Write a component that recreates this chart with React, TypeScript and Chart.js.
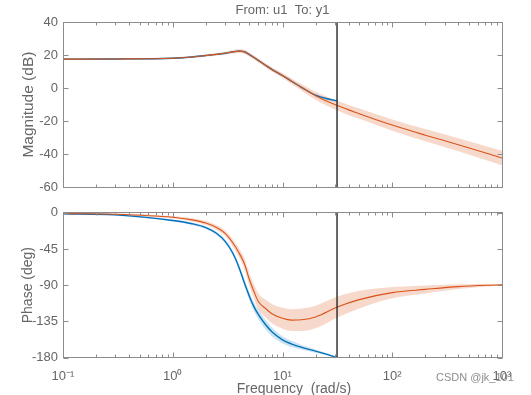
import React, { useEffect, useRef } from 'react';
import { Chart, registerables } from 'chart.js';

Chart.register(...registerables);

const FONT = '"Liberation Sans", Arial, Helvetica, sans-serif';
const TEXT = '#666666';
const AXIS = '#8c8c8c';
const ORANGE = '#D95319';
const BLUE = '#0072BD';
const ORANGE_BAND = 'rgba(217,83,25,0.22)';
const BLUE_BAND = 'rgba(0,114,189,0.2)';

const TITLE = 'From: u1  To: y1';
const X_LABEL = 'Frequency  (rad/s)';
const MAG_LABEL = 'Magnitude (dB)';
const PHASE_LABEL = 'Phase (deg)';
const WATERMARK = 'CSDN @jk_101';

const X_MIN = 0.1;
const X_MAX = 1000;
const NYQUIST = 31.4;
const xTickValues = [0.1, 1, 10, 100, 1000];
const xTickLabels = ['10\u207B\u00B9', '10\u2070', '10\u00B9', '10\u00B2', '10\u00B3'];
const magTicks = [-60, -40, -20, 0, 20, 40];
const phaseTicks = [-180, -135, -90, -45, 0];

// orange (model 2) — full range
const freqOrange = [0.1, 0.3, 1, 1.5, 2, 2.5, 3, 3.5, 4, 4.5, 5, 5.5, 6, 7, 8, 10, 12, 15, 20, 31.6, 50, 100, 200, 400, 1000];
const magOrange = [17.5, 17.6, 18.1, 18.8, 19.7, 20.4, 21.1, 21.9, 22.4, 22.0, 20.2, 18.5, 16.8, 13.8, 11.3, 7.6, 4.3, 0.3, -4.6, -10.6, -15.5, -22.4, -28.5, -34.3, -42.3];
const magOrangeSpread = [0.5, 0.5, 0.5, 0.6, 0.7, 0.8, 0.9, 1.0, 1.1, 1.2, 1.2, 1.2, 1.2, 1.2, 1.3, 1.5, 1.7, 2.0, 2.4, 2.9, 3.1, 3.4, 3.7, 4.0, 4.4];
const phaseOrange = [-1, -1.8, -5.6, -8.8, -12.8, -18.3, -25.5, -36.7, -49.4, -63.4, -83.3, -98, -110, -119, -125.5, -131.2, -133.5, -133.0, -129.5, -117.2, -108, -99.3, -95.3, -91.8, -89.5];
const phaseOrangeSpread = [0.5, 1, 1.5, 2, 2.5, 3, 3.5, 4.5, 5.5, 7, 8, 9, 10, 11, 12, 13, 13.5, 14, 14, 13, 11, 7, 5, 3, 1];

// blue (model 1) — up to the Nyquist frequency
const freqBlue = [0.1, 0.3, 1, 1.5, 2, 2.5, 3, 3.5, 4, 4.5, 5, 5.5, 6, 7, 8, 10, 12, 15, 20, 25, 31.4];
const magBlue = [17.5, 17.6, 18.1, 18.8, 19.7, 20.4, 21.1, 21.9, 22.4, 22.0, 20.2, 18.5, 16.8, 13.8, 11.3, 7.6, 4.3, 0.3, -4.3, -6.3, -7.7];
const magBlueSpread = [0.3, 0.3, 0.3, 0.3, 0.4, 0.4, 0.5, 0.5, 0.6, 0.6, 0.6, 0.6, 0.6, 0.6, 0.6, 0.6, 0.6, 0.6, 0.6, 0.6, 0.6];
const phaseBlue = [-1.2, -2.6, -9.6, -13.6, -18.4, -25.5, -35.5, -49.4, -67.3, -87.3, -104, -117, -126, -139, -148, -158, -163, -167.5, -172, -175.8, -180];
const phaseBlueSpread = [0.5, 0.8, 1.2, 1.5, 1.8, 2, 2.5, 3, 4, 4.5, 5, 5.5, 6, 6, 5.5, 4.5, 4, 3, 2, 1.5, 1];

const pts = (xs: number[], ys: number[]) => xs.map((x, i) => ({ x, y: ys[i] }));

function seriesSets(freq: number[], vals: number[], spread: number[], color: string, band: string, lw: number, order: number) {
  const common = { pointRadius: 0, pointHoverRadius: 0, cubicInterpolationMode: 'monotone' as const };
  return [
    { ...common, data: pts(freq, vals), borderColor: color, borderWidth: lw, fill: false, order },
    { ...common, data: pts(freq, vals.map((v, i) => v + spread[i])), borderColor: 'transparent', borderWidth: 0, fill: false, order: order + 2 },
    { ...common, data: pts(freq, vals.map((v, i) => v - spread[i])), borderColor: 'transparent', borderWidth: 0, backgroundColor: band, fill: '-1', order: order + 2 },
  ];
}

const framePlugin = {
  id: 'frame',
  afterDraw(chart: any) {
    const opts = chart.options.plugins.frame || {};
    const { ctx, chartArea: a, scales } = chart;
    const xs = scales.x;
    const ys = scales.y;
    const L = Math.floor(a.left) + 0.5;
    const R = Math.floor(a.right) + 0.5;
    const T = Math.floor(a.top) + 0.5;
    const B = Math.floor(a.bottom) + 0.5;
    ctx.save();
    // Nyquist line
    const nx = xs.getPixelForValue(NYQUIST);
    ctx.strokeStyle = '#262626';
    ctx.lineWidth = 1.4;
    ctx.beginPath();
    ctx.moveTo(nx, a.top);
    ctx.lineTo(nx, a.bottom);
    ctx.stroke();
    // box
    ctx.strokeStyle = AXIS;
    ctx.lineWidth = 1;
    ctx.strokeRect(L, T, R - L, B - T);
    ctx.beginPath();
    // y ticks
    for (const t of ys.ticks) {
      const py = Math.round(ys.getPixelForValue(t.value)) + 0.5;
      ctx.moveTo(L, py); ctx.lineTo(L + 5, py);
      ctx.moveTo(R, py); ctx.lineTo(R - 5, py);
    }
    // x ticks (log major + minor)
    for (let e = -1; e <= 3; e++) {
      for (let m = 1; m <= 9; m++) {
        const v = m * Math.pow(10, e);
        if (v > X_MAX * 1.0001) break;
        const len = m === 1 ? 5 : 3;
        const px = Math.round(xs.getPixelForValue(v)) + 0.5;
        ctx.moveTo(px, B); ctx.lineTo(px, B - len);
        ctx.moveTo(px, T); ctx.lineTo(px, T + len);
      }
    }
    ctx.stroke();
    if (opts.xLabel) {
      ctx.fillStyle = TEXT;
      ctx.font = `14px ${FONT}`;
      ctx.textAlign = 'center';
      ctx.textBaseline = 'middle';
      ctx.fillText(X_LABEL, (a.left + a.right) / 2 + 11.5, a.bottom + 32);
    }
    ctx.restore();
  },
};

function yScale(min: number, max: number, ticks: number[], label: string, labelSize: number) {
  return {
    min,
    max,
    afterBuildTicks: (s: any) => { s.ticks = ticks.map((v) => ({ value: v })); },
    afterFit: (s: any) => { s.width = 63; },
    grid: { display: false, drawTicks: false },
    border: { display: false },
    ticks: { font: { family: FONT, size: 13 }, color: TEXT, padding: 5 },
    title: { display: true, text: label, color: TEXT, font: { family: FONT, size: labelSize }, padding: { top: 19.5, bottom: 0 } },
  };
}

export default function App() {
  const topRef = useRef<HTMLCanvasElement | null>(null);
  const botRef = useRef<HTMLCanvasElement | null>(null);

  useEffect(() => {
    const top = new Chart(topRef.current as HTMLCanvasElement, {
      type: 'line',
      data: {
        datasets: [
          ...seriesSets(freqOrange, magOrange, magOrangeSpread, ORANGE, ORANGE_BAND, 1.1, 0),
          ...seriesSets(freqBlue, magBlue, magBlueSpread, BLUE, BLUE_BAND, 1.4, 1),
        ] as any,
      },
      plugins: [framePlugin],
      options: {
        responsive: false,
        animation: false,
        devicePixelRatio: 1,
        events: [],
        layout: { padding: { left: 0, right: 29, top: 0, bottom: 7.5 } },
        plugins: {
          legend: { display: false },
          tooltip: { enabled: false },
          title: { display: true, text: TITLE, fullSize: false, color: TEXT, font: { family: FONT, size: 13, weight: 'normal' }, padding: { top: 3, bottom: 3.4 } },
          frame: { xLabel: false },
        } as any,
        scales: {
          x: { type: 'logarithmic', min: X_MIN, max: X_MAX, display: false },
          y: yScale(-60, 40, magTicks, MAG_LABEL, 15.5) as any,
        },
      },
    });
    const bot = new Chart(botRef.current as HTMLCanvasElement, {
      type: 'line',
      data: {
        datasets: [
          ...seriesSets(freqOrange, phaseOrange, phaseOrangeSpread, ORANGE, ORANGE_BAND, 1.1, 0),
          ...seriesSets(freqBlue, phaseBlue, phaseBlueSpread, BLUE, BLUE_BAND, 1.4, 1),
        ] as any,
      },
      plugins: [framePlugin],
      options: {
        responsive: false,
        animation: false,
        devicePixelRatio: 1,
        events: [],
        layout: { padding: { left: 0, right: 29, top: 7, bottom: 0 } },
        plugins: {
          legend: { display: false },
          tooltip: { enabled: false },
          frame: { xLabel: true },
        } as any,
        scales: {
          x: {
            type: 'logarithmic',
            min: X_MIN,
            max: X_MAX,
            afterBuildTicks: (s: any) => { s.ticks = xTickValues.map((v) => ({ value: v })); },
            afterFit: (s: any) => { s.height = 42.5; },
            grid: { display: false, drawTicks: false },
            border: { display: false },
            ticks: {
              autoSkip: false,
              maxRotation: 0,
              padding: 11,
              color: TEXT,
              font: { family: FONT, size: 13 },
              callback: (_v: any, i: number) => xTickLabels[i],
            },
          } as any,
          y: yScale(-180, 0, phaseTicks, PHASE_LABEL, 14) as any,
        },
      },
    });
    return () => {
      top.destroy();
      bot.destroy();
    };
  }, []);

  return (
    <div style={{ position: 'fixed', left: 0, top: 0, width: 531, height: 395, overflow: 'hidden', background: '#fff' }}>
      <div style={{ position: 'absolute', left: 0, top: 0, width: 531, height: 200 }}>
        <canvas ref={topRef} width={531} height={200} />
      </div>
      <div style={{ position: 'absolute', left: 0, top: 200, width: 531, height: 200 }}>
        <canvas ref={botRef} width={531} height={200} />
      </div>
      <div style={{ position: 'absolute', left: 436, top: 371, font: `11px ${FONT}`, lineHeight: '13px', color: 'rgba(120,120,120,0.85)', whiteSpace: 'nowrap' }}>
        {WATERMARK}
      </div>
    </div>
  );
}
